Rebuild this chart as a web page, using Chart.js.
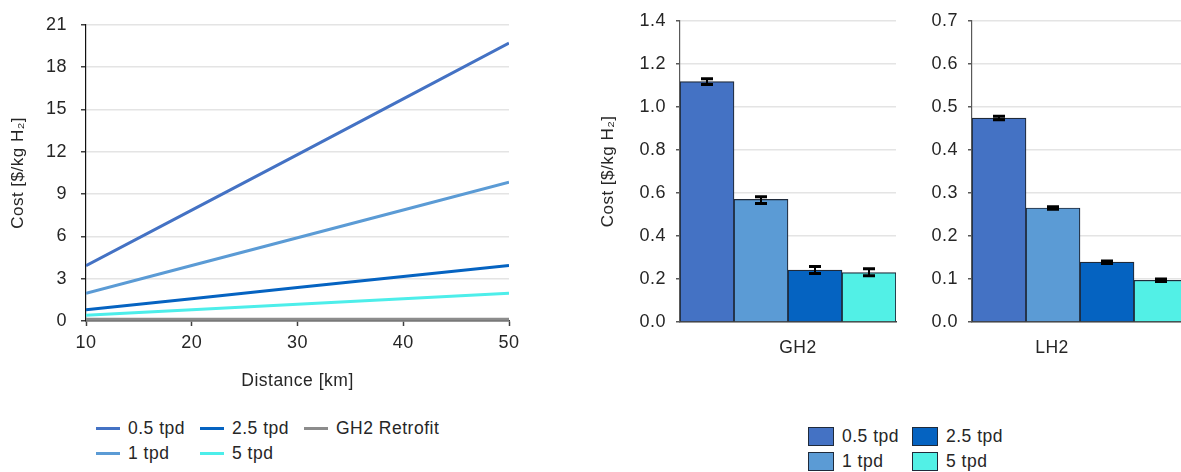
<!DOCTYPE html>
<html>
<head>
<meta charset="utf-8">
<script src="https://cdn.jsdelivr.net/npm/chart.js@4"></script>
<style>
  html, body { margin: 0; padding: 0; background: #fff; }
  body { width: 1181px; height: 472px; position: relative; overflow: hidden;
         font-family: "Liberation Sans", Arial, sans-serif; color: #262626; }
  canvas { position: absolute; top: 0; }
  #lineChart { left: 0; }
  #gh2Chart { left: 590px; }
  #lh2Chart { left: 900px; }
  .legend { position: absolute; display: grid; grid-auto-flow: column;
            grid-template-rows: 25px 25px; font-size: 17.5px; letter-spacing: 0.5px; }
  .legend .item { display: flex; align-items: center; white-space: nowrap; }
  #lineLegend { left: 96px; top: 416px; grid-template-columns: 104px 104px auto; }
  #lineLegend .swatch { width: 24px; height: 3px; margin-right: 8px; }
  #barLegend { left: 808px; top: 424px; grid-template-columns: 104px 104px; }
  #barLegend .swatch { width: 24px; height: 17px; margin-right: 8px;
                       border: 1px solid #1f2a3a; }
</style>
</head>
<body>
<canvas id="lineChart" width="540" height="400"></canvas>
<canvas id="gh2Chart" width="320" height="400"></canvas>
<canvas id="lh2Chart" width="300" height="400"></canvas>
<div id="lineLegend" class="legend"></div>
<div id="barLegend" class="legend"></div>
<script>
// ---- data ----
const distances = [10, 20, 30, 40, 50];
const cost05 = [3.92, 7.86, 11.8, 15.75, 19.7];
const cost1 = [1.96, 3.93, 5.9, 7.87, 9.84];
const cost25 = [0.79, 1.58, 2.37, 3.16, 3.94];
const cost5 = [0.4, 0.79, 1.18, 1.58, 1.97];
const costRetrofit = [0.12, 0.12, 0.12, 0.12, 0.12];

const sizeLabels = ['0.5 tpd', '1 tpd', '2.5 tpd', '5 tpd'];
const sizeColors = ['#4472C4', '#5B9BD5', '#0563C1', '#52F0E6'];

const gh2Cost = [1.117, 0.57, 0.241, 0.23];
const gh2Low = [1.104, 0.551, 0.226, 0.215];
const gh2High = [1.131, 0.582, 0.258, 0.248];

const lh2Cost = [0.474, 0.265, 0.139, 0.097];
const lh2Low = [0.47, 0.262, 0.136, 0.094];
const lh2High = [0.478, 0.268, 0.142, 0.1];

Chart.defaults.font.family = '"Liberation Sans", Arial, sans-serif';
Chart.defaults.color = '#262626';

// slightly looser text spacing on all canvases
Chart.register({
  id: 'textSpacing',
  beforeLayout(chart) { chart.ctx.letterSpacing = '0.5px'; },
  beforeDraw(chart) { chart.ctx.letterSpacing = '0.5px'; },
});

const yTitle = 'Cost [$/kg H\u2082]';
const gridColor = '#e4e4e4';

// ---- cost vs distance ----
const lineSeries = [
  { label: '0.5 tpd', data: cost05, color: sizeColors[0] },
  { label: '1 tpd', data: cost1, color: sizeColors[1] },
  { label: '2.5 tpd', data: cost25, color: sizeColors[2] },
  { label: '5 tpd', data: cost5, color: '#4DEEEA' },
  { label: 'GH2 Retrofit', data: costRetrofit, color: '#8c8c8c' },
];

const lineChart = new Chart(document.getElementById('lineChart'), {
  type: 'line',
  data: {
    datasets: lineSeries.map((s) => ({
      label: s.label,
      data: distances.map((d, i) => ({ x: d, y: s.data[i] })),
      borderColor: s.color,
      backgroundColor: s.color,
      borderWidth: 3,
      pointRadius: 0,
      tension: 0,
    })),
  },
  options: {
    responsive: false,
    animation: false,
    layout: { padding: { left: 0, top: 16, right: 31, bottom: 0 } },
    plugins: { legend: { display: false }, tooltip: { enabled: false } },
    scales: {
      x: {
        type: 'linear',
        min: 10,
        max: 50,
        ticks: { stepSize: 10, padding: 6, font: { size: 18 } },
        grid: { drawOnChartArea: false, tickLength: 5, tickColor: '#404040', tickWidth: 1.5 },
        border: { color: '#404040', width: 1.5 },
        title: { display: true, text: 'Distance [km]', font: { size: 17.5 }, padding: { bottom: 8 } },
        afterFit: (scale) => { scale.height = 79; },
      },
      y: {
        min: 0,
        max: 21,
        ticks: { stepSize: 3, padding: 14, font: { size: 18 } },
        grid: { color: gridColor, lineWidth: 1.5, tickLength: 5, tickColor: '#404040' },
        border: { color: '#111', width: 1.2 },
        title: { display: true, text: yTitle, font: { size: 17 }, padding: { top: 8 } },
        afterFit: (scale) => { scale.width = 86; },
      },
    },
  },
});

// ---- error bars drawn on top of the bars ----
const errorBars = {
  id: 'errorBars',
  afterDatasetsDraw(chart, args, opts) {
    const ctx = chart.ctx;
    const y = chart.scales.y;
    ctx.save();
    ctx.strokeStyle = '#000';
    chart.data.datasets.forEach((ds, i) => {
      const bar = chart.getDatasetMeta(i).data[0];
      const top = y.getPixelForValue(opts.high[i]);
      const bot = y.getPixelForValue(opts.low[i]);
      ctx.lineWidth = 2;
      ctx.beginPath();
      ctx.moveTo(bar.x, top);
      ctx.lineTo(bar.x, bot);
      ctx.stroke();
      ctx.lineWidth = 3;
      ctx.beginPath();
      ctx.moveTo(bar.x - 6, top);
      ctx.lineTo(bar.x + 6, top);
      ctx.moveTo(bar.x - 6, bot);
      ctx.lineTo(bar.x + 6, bot);
      ctx.stroke();
    });
    ctx.restore();
  },
};

function barChart(id, label, values, low, high, yMax, yStep, cfg) {
  return new Chart(document.getElementById(id), {
    type: 'bar',
    data: {
      labels: [label],
      datasets: sizeLabels.map((name, i) => ({
        label: name,
        data: [values[i]],
        backgroundColor: sizeColors[i],
        borderColor: '#1f2a3a',
        borderWidth: 1.2,
        categoryPercentage: 1,
        barPercentage: 1,
      })),
    },
    options: {
      responsive: false,
      animation: false,
      layout: { padding: { left: 0, top: 16, right: cfg.right, bottom: 0 } },
      plugins: {
        legend: { display: false },
        tooltip: { enabled: false },
        errorBars: { low: low, high: high },
      },
      scales: {
        x: {
          ticks: { padding: 8, font: { size: 17.5 }, labelOffset: cfg.labelOffset },
          grid: { display: false },
          border: { color: '#404040', width: 1.5 },
          afterFit: (scale) => { scale.height = 78; },
        },
        y: {
          min: 0,
          max: yMax,
          ticks: {
            stepSize: yStep,
            padding: 10,
            font: { size: 18 },
            callback: (v) => v.toFixed(1),
          },
          grid: { color: gridColor, lineWidth: 1.5, tickLength: 4, tickColor: '#595959' },
          border: { color: '#595959', width: 1.2 },
          title: { display: cfg.title, text: yTitle, font: { size: 17 }, padding: { top: 8 } },
          afterFit: (scale) => { scale.width = cfg.axisWidth; },
        },
      },
    },
    plugins: [errorBars],
  });
}

const gh2Chart = barChart('gh2Chart', 'GH2', gh2Cost, gh2Low, gh2High, 1.4, 0.2,
  { right: 14, axisWidth: 90, title: true, labelOffset: 10 });
const lh2Chart = barChart('lh2Chart', 'LH2', lh2Cost, lh2Low, lh2High, 0.7, 0.1,
  { right: 12, axisWidth: 72, title: false, labelOffset: -28 });

// ---- legends ----
function buildLegend(el, chart) {
  chart.data.datasets.forEach((ds) => {
    const item = document.createElement('div');
    item.className = 'item';
    const sw = document.createElement('span');
    sw.className = 'swatch';
    sw.style.background = ds.backgroundColor;
    item.appendChild(sw);
    item.appendChild(document.createTextNode(ds.label));
    el.appendChild(item);
  });
}
buildLegend(document.getElementById('lineLegend'), lineChart);
buildLegend(document.getElementById('barLegend'), gh2Chart);
</script>
</body>
</html>
